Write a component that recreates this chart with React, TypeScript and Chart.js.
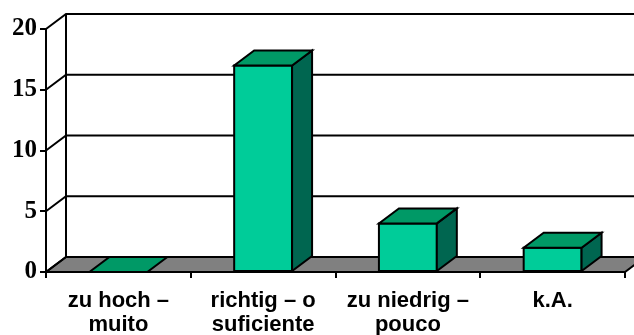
import { useEffect, useRef } from "react";
import { Chart, registerables } from "chart.js";

Chart.register(...registerables);

// Answer categories (German – Portuguese), one array entry per label line
const categories: string[][] = [
  ["zu hoch –", "muito"],
  ["richtig – o", "suficiente"],
  ["zu niedrig –", "pouco"],
  ["k.A."],
];
// Number of answers per category
const counts: number[] = [0, 17, 4, 2];
// Value axis ticks
const yTicks: number[] = [0, 5, 10, 15, 20];

const WIDTH = 634;
const HEIGHT = 335;
const DEPTH_X = 20;
const DEPTH_Y = 15;

const FRONT = "#00CC99";
const TOP = "#009966";
const SIDE = "#006650";
const FLOOR = "#808080";

// Draws the walls, floor and extruded boxes of a pseudo-3D column chart
const box3d = {
  id: "box3d",
  beforeDatasetsDraw(chart: any) {
    const { ctx, chartArea: a, scales } = chart;
    const y = scales.y;
    const far = chart.width + 40;
    ctx.save();
    ctx.lineWidth = 2;
    ctx.strokeStyle = "#000";
    ctx.lineJoin = "miter";

    // floor
    ctx.beginPath();
    ctx.moveTo(a.left, a.bottom);
    ctx.lineTo(a.right, a.bottom);
    ctx.lineTo(a.right + DEPTH_X, a.bottom - DEPTH_Y);
    ctx.lineTo(a.left + DEPTH_X, a.bottom - DEPTH_Y);
    ctx.closePath();
    ctx.fillStyle = FLOOR;
    ctx.fill();
    ctx.stroke();

    // side-wall diagonals and back-wall grid lines
    ctx.beginPath();
    for (const v of yTicks) {
      const py = y.getPixelForValue(v);
      ctx.moveTo(a.left, py);
      ctx.lineTo(a.left + DEPTH_X, py - DEPTH_Y);
      if (v > 0) ctx.lineTo(far, py - DEPTH_Y);
    }
    // back wall left edge
    ctx.moveTo(a.left + DEPTH_X, y.getPixelForValue(yTicks[yTicks.length - 1]) - DEPTH_Y);
    ctx.lineTo(a.left + DEPTH_X, a.bottom - DEPTH_Y);
    // front value axis
    ctx.moveTo(a.left, a.top);
    ctx.lineTo(a.left, a.bottom + 3);
    ctx.stroke();
    ctx.restore();
  },
  afterDatasetsDraw(chart: any) {
    const { ctx } = chart;
    const meta = chart.getDatasetMeta(0);
    ctx.save();
    ctx.lineWidth = 2;
    ctx.strokeStyle = "#000";
    ctx.lineJoin = "miter";
    meta.data.forEach((bar: any) => {
      const { x, y, base, width } = bar.getProps(["x", "y", "base", "width"], true);
      const l = x - width / 2;
      const r = x + width / 2;
      const top = Math.min(y, base);
      const bottom = Math.max(y, base);

      if (bottom - top > 0) {
        // front face
        ctx.beginPath();
        ctx.rect(l, top, r - l, bottom - top);
        ctx.fillStyle = FRONT;
        ctx.fill();
        ctx.stroke();
        // right side face
        ctx.beginPath();
        ctx.moveTo(r, bottom);
        ctx.lineTo(r, top);
        ctx.lineTo(r + DEPTH_X, top - DEPTH_Y);
        ctx.lineTo(r + DEPTH_X, bottom - DEPTH_Y);
        ctx.closePath();
        ctx.fillStyle = SIDE;
        ctx.fill();
        ctx.stroke();
      }
      // top face
      ctx.beginPath();
      ctx.moveTo(l, top);
      ctx.lineTo(r, top);
      ctx.lineTo(r + DEPTH_X, top - DEPTH_Y);
      ctx.lineTo(l + DEPTH_X, top - DEPTH_Y);
      ctx.closePath();
      ctx.fillStyle = TOP;
      ctx.fill();
      ctx.stroke();
    });
    ctx.restore();
  },
};

export default function App() {
  const canvasRef = useRef<HTMLCanvasElement | null>(null);

  useEffect(() => {
    const canvas = canvasRef.current;
    if (!canvas) return;
    const chart = new Chart(canvas, {
      type: "bar",
      data: {
        labels: categories,
        datasets: [
          {
            data: counts,
            backgroundColor: "rgba(0,0,0,0)",
            borderWidth: 0,
            barPercentage: 0.4,
            categoryPercentage: 1,
          },
        ],
      },
      options: {
        responsive: false,
        animation: false,
        devicePixelRatio: 1,
        layout: { padding: { top: 29, right: 9, left: 0, bottom: 0 } },
        plugins: {
          legend: { display: false },
          tooltip: { enabled: false },
        },
        scales: {
          x: {
            offset: true,
            grid: {
              offset: true,
              drawOnChartArea: false,
              drawTicks: true,
              tickLength: 6,
              color: "#000",
              lineWidth: 2,
            },
            border: { display: false },
            ticks: {
              color: "#000",
              padding: 11,
              maxRotation: 0,
              autoSkip: false,
              font: { family: "'Liberation Sans', Arial, sans-serif", size: 22, weight: "bold", lineHeight: 1.1 },
            },
            afterFit: (s: any) => {
              s.height = 63;
            },
          },
          y: {
            min: 0,
            max: 20,
            grid: {
              drawOnChartArea: false,
              drawTicks: true,
              tickLength: 6,
              color: "#000",
              lineWidth: 2,
            },
            border: { display: false },
            ticks: {
              stepSize: 5,
              color: "#000",
              padding: 3,
              font: { family: "'Liberation Serif', 'Times New Roman', serif", size: 25, weight: "bold" },
            },
            afterFit: (s: any) => {
              s.width = 46;
            },
          },
        },
      },
      plugins: [box3d],
    });
    return () => chart.destroy();
  }, []);

  return (
    <div style={{ position: "fixed", left: 0, top: 0, width: WIDTH, height: HEIGHT, background: "#fff" }}>
      <canvas ref={canvasRef} width={WIDTH} height={HEIGHT} style={{ width: WIDTH, height: HEIGHT, display: "block" }} />
    </div>
  );
}
